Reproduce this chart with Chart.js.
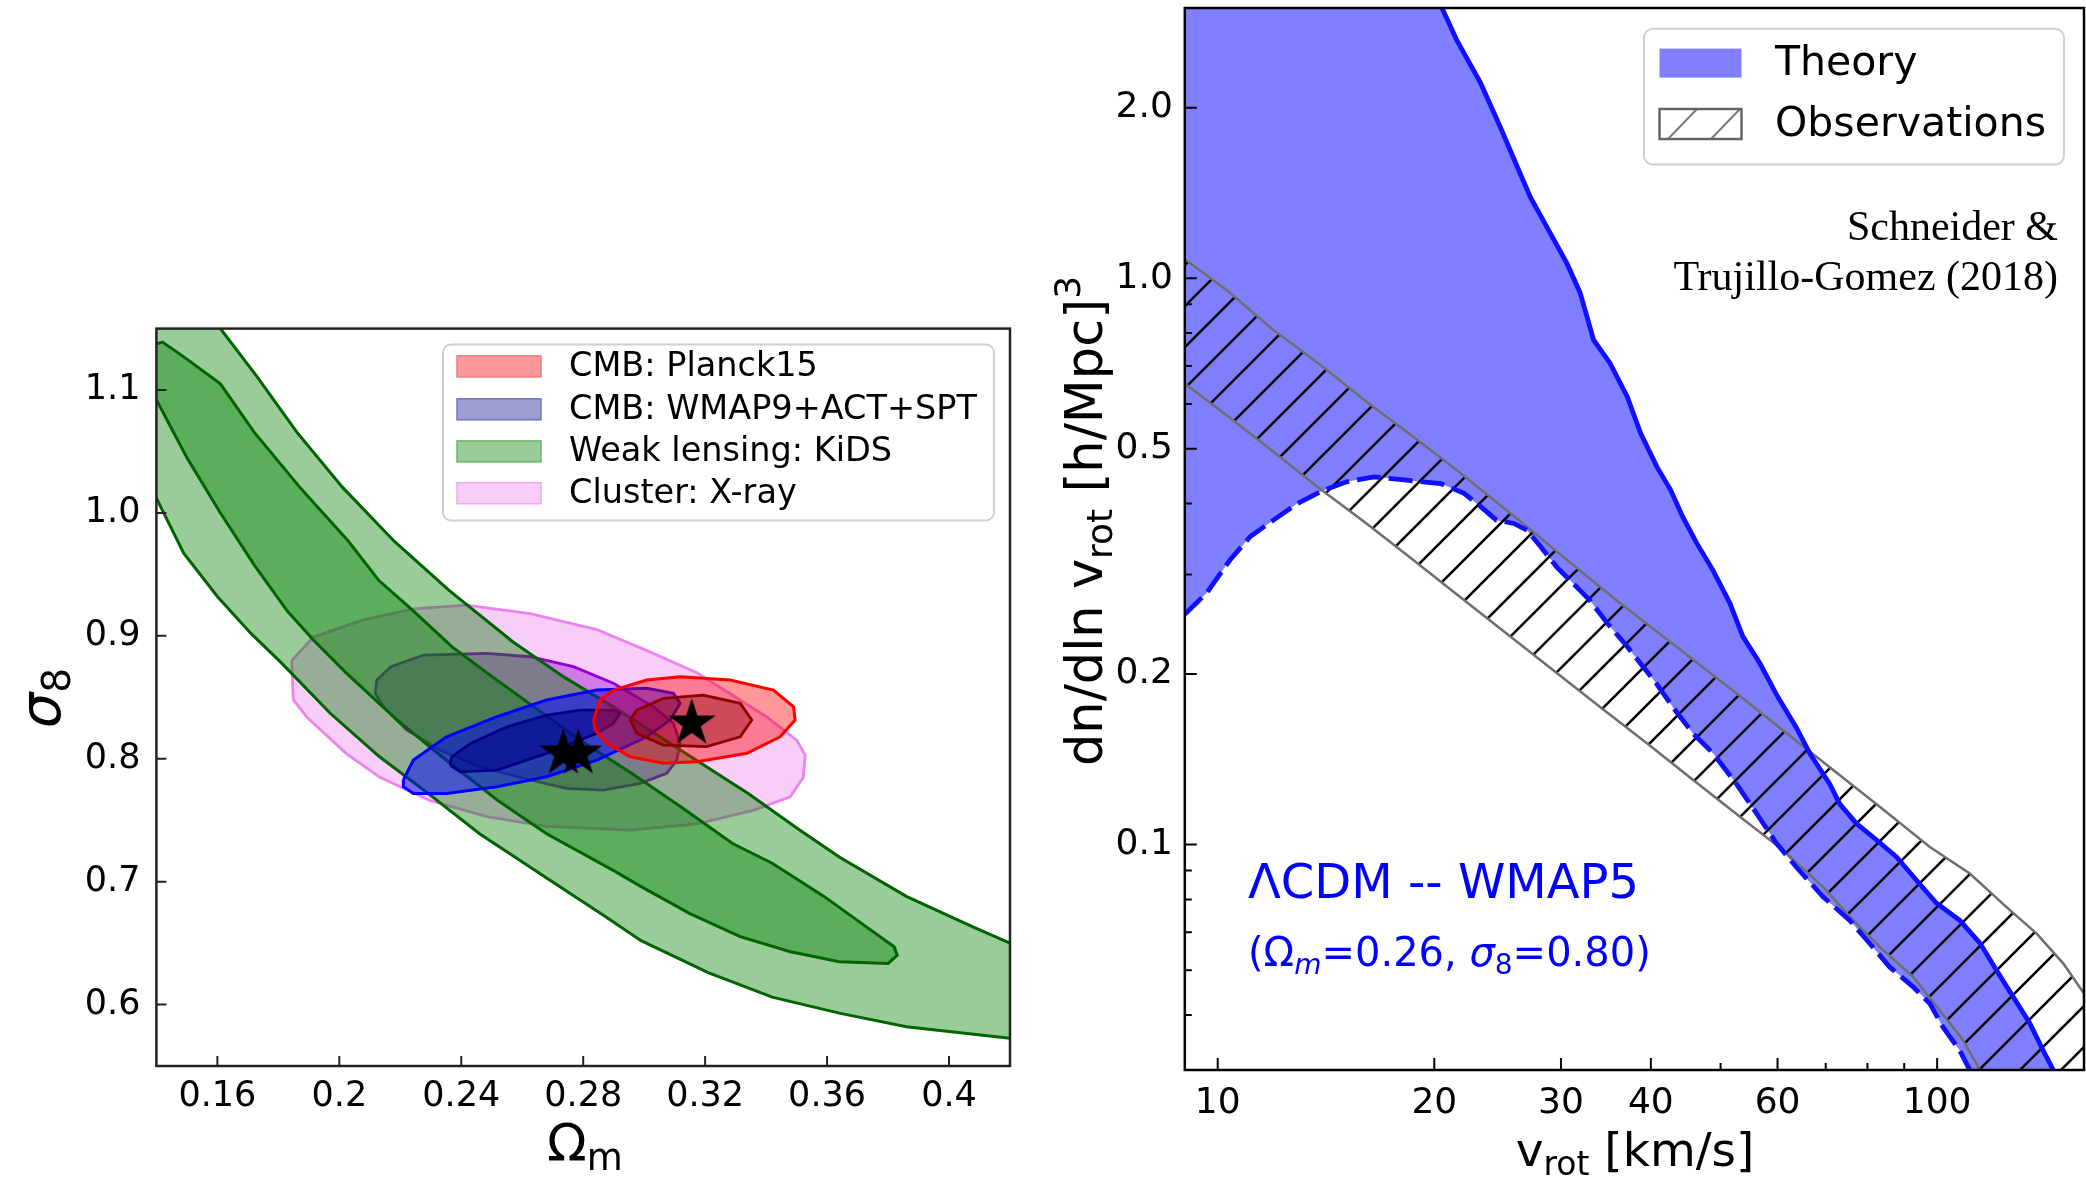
<!DOCTYPE html>
<html>
<head>
<meta charset="utf-8">
<title>sigma_8 - Omega_m constraints / velocity function</title>
<script src="https://cdn.jsdelivr.net/npm/chart.js@4.4.1/dist/chart.umd.min.js"></script>
<style>
  html, body { margin: 0; padding: 0; background: #ffffff; }
  body { position: relative; width: 2086px; height: 1179px; overflow: hidden; }
  #leftBox { position: absolute; left: 0; top: 300px; width: 1040px; height: 879px; }
  #rightBox { position: absolute; left: 1040px; top: 0; width: 1046px; height: 1179px; }
</style>
</head>
<body>
<div id="leftBox"><canvas id="contours" width="1040" height="879"></canvas></div>
<div id="rightBox"><canvas id="velocity" width="1046" height="1179"></canvas></div>
<script>
const FONT = "'DejaVu Sans', sans-serif";

// ---------- left panel: Omega_m - sigma_8 contours ----------
const omTicks = [0.16, 0.2, 0.24, 0.28, 0.32, 0.36, 0.4];
const omTickLabels = ["0.16", "0.2", "0.24", "0.28", "0.32", "0.36", "0.4"];
const s8Ticks = [0.6, 0.7, 0.8, 0.9, 1.0, 1.1];
const s8TickLabels = ["0.6", "0.7", "0.8", "0.9", "1.0", "1.1"];

// KiDS weak lensing, outer (2 sigma) band: upper edge then lower edge
const kidsOuter = [
  [0.150, 1.20], [0.161, 1.15], [0.173, 1.111], [0.186, 1.066], [0.201, 1.021],
  [0.218, 0.977], [0.236, 0.937], [0.257, 0.895], [0.274, 0.866], [0.290, 0.842],
  [0.312, 0.807], [0.334, 0.772], [0.351, 0.742], [0.364, 0.720], [0.386, 0.688],
  [0.408, 0.663], [0.420, 0.650], [0.430, 0.640],
  [0.430, 0.568], [0.420, 0.5725], [0.386, 0.582], [0.364, 0.593], [0.342, 0.606],
  [0.321, 0.626], [0.299, 0.652], [0.287, 0.672], [0.268, 0.703], [0.246, 0.739],
  [0.229, 0.772], [0.213, 0.802], [0.197, 0.837], [0.181, 0.878], [0.171, 0.902],
  [0.160, 0.932], [0.149, 0.967], [0.140, 1.012], [0.130, 1.06], [0.130, 1.20],
  [0.150, 1.20]
];
// KiDS inner (1 sigma) region
const kidsInner = [
  [0.138, 1.136], [0.142, 1.139], [0.149, 1.127], [0.161, 1.105], [0.172, 1.066],
  [0.187, 1.021], [0.203, 0.977], [0.213, 0.945], [0.224, 0.921], [0.237, 0.891],
  [0.250, 0.867], [0.264, 0.842], [0.279, 0.815], [0.296, 0.788], [0.312, 0.761],
  [0.329, 0.731], [0.342, 0.715], [0.359, 0.688], [0.373, 0.663], [0.382, 0.647],
  [0.383, 0.640], [0.380, 0.6335], [0.364, 0.6348], [0.348, 0.643], [0.3315, 0.6552],
  [0.315, 0.674], [0.299, 0.696], [0.290, 0.709], [0.268, 0.739], [0.252, 0.766],
  [0.235, 0.799], [0.219, 0.8315], [0.2024, 0.8695], [0.1915, 0.8966], [0.183, 0.92],
  [0.172, 0.958], [0.161, 1.0], [0.150, 1.045], [0.140, 1.092], [0.130, 1.13],
  [0.138, 1.136]
];
// Cluster X-ray
const clusterOuter = [
  [0.1844, 0.880], [0.1915, 0.899], [0.2079, 0.913], [0.2243, 0.922], [0.2418, 0.925],
  [0.2626, 0.918], [0.2845, 0.905], [0.3009, 0.888], [0.3173, 0.870], [0.3300, 0.850],
  [0.3402, 0.834], [0.3501, 0.815], [0.3528, 0.803], [0.3522, 0.785], [0.3479, 0.769],
  [0.3358, 0.758], [0.3173, 0.747], [0.2954, 0.742], [0.2680, 0.745], [0.2484, 0.753],
  [0.2297, 0.766], [0.2133, 0.785], [0.2024, 0.804], [0.1893, 0.834], [0.1849, 0.848],
  [0.1844, 0.880]
];
const clusterInner = [
  [0.2484, 0.8858], [0.2626, 0.883], [0.2768, 0.8749], [0.2899, 0.8614], [0.3030, 0.8423],
  [0.3096, 0.8288], [0.3118, 0.8125], [0.3107, 0.7989], [0.3074, 0.7881], [0.2987, 0.780],
  [0.2866, 0.7745], [0.2746, 0.7759], [0.2626, 0.7827], [0.2462, 0.7935], [0.2330, 0.8071],
  [0.2221, 0.8234], [0.2145, 0.8423], [0.2118, 0.8532], [0.2123, 0.864], [0.2169, 0.8749],
  [0.2277, 0.8844], [0.2484, 0.8858]
];
// CMB WMAP9+ACT+SPT
const wmapOuter = [
  [0.2210, 0.7827], [0.2243, 0.7989], [0.2352, 0.8179], [0.2517, 0.8342], [0.2680, 0.8478],
  [0.2845, 0.8559], [0.3009, 0.8573], [0.3096, 0.8532], [0.3118, 0.8451], [0.3085, 0.8315],
  [0.3009, 0.8179], [0.2845, 0.7989], [0.2680, 0.7854], [0.2517, 0.7772], [0.2352, 0.7718],
  [0.2243, 0.7718], [0.2210, 0.7772], [0.2210, 0.7827]
];
const wmapInner = [
  [0.2363, 0.7949], [0.2369, 0.8016], [0.2430, 0.8125], [0.2550, 0.826], [0.2680, 0.8356],
  [0.2790, 0.8396], [0.2899, 0.8396], [0.2921, 0.8369], [0.2899, 0.8288], [0.2845, 0.8207],
  [0.2680, 0.8044], [0.2517, 0.7908], [0.2396, 0.7894], [0.2363, 0.7949]
];
// CMB Planck15
const planckOuter = [
  [0.2834, 0.8315], [0.2855, 0.8478], [0.2899, 0.8559], [0.3009, 0.864], [0.3118, 0.8667],
  [0.3282, 0.864], [0.3424, 0.8559], [0.3490, 0.8423], [0.3495, 0.8315], [0.3446, 0.8179],
  [0.3337, 0.8044], [0.3173, 0.7976], [0.3063, 0.7963], [0.2954, 0.8016], [0.2878, 0.8125],
  [0.2839, 0.8234], [0.2834, 0.8315]
];
const planckInner = [
  [0.2954, 0.8315], [0.2976, 0.8396], [0.3063, 0.8491], [0.3194, 0.8518], [0.3315, 0.8451],
  [0.3353, 0.8315], [0.3315, 0.8179], [0.3205, 0.8098], [0.3063, 0.8111], [0.2976, 0.8207],
  [0.2954, 0.8315]
];
const bestFits = [[0.2735, 0.8044], [0.2784, 0.8044], [0.3156, 0.8288]];

const leftLegend = [
  { label: "CMB: Planck15", fill: "#ff9999", edge: "#f27a7a" },
  { label: "CMB: WMAP9+ACT+SPT", fill: "#9d9dd2", edge: "#7474bc" },
  { label: "Weak lensing: KiDS", fill: "#99cc99", edge: "#6cb46c" },
  { label: "Cluster: X-ray", fill: "#f8cdf8", edge: "#f0a8f0" }
];

// ---------- right panel: velocity function ----------
const vTicks = [10, 20, 30, 40, 60, 100];
const vTickLabels = ["10", "20", "30", "40", "60", "100"];
const vMinor = [50, 70, 80, 90];
const nTicks = [0.1, 0.2, 0.5, 1.0, 2.0];
const nTickLabels = ["0.1", "0.2", "0.5", "1.0", "2.0"];
const nMinor = [0.05, 0.06, 0.07, 0.08, 0.09, 0.3, 0.4, 0.6, 0.7, 0.8, 0.9];

// theory band, upper edge (solid line)
const theoryUpper = [
  [9, 3.3], [20.2, 3.3], [20.5, 3.0], [21.5, 2.63], [23.2, 2.21], [24.7, 1.85], [26.1, 1.57],
  [27.2, 1.39], [29.0, 1.20], [30.6, 1.06], [31.9, 0.942], [33.3, 0.778], [35.1, 0.708],
  [37.1, 0.617], [38.7, 0.533], [40.8, 0.464], [42.6, 0.423], [44.3, 0.379], [46.3, 0.341],
  [48.8, 0.305], [51.5, 0.267], [53.7, 0.233], [56.7, 0.209], [59.8, 0.184], [63.7, 0.161],
  [66.5, 0.145], [70.9, 0.128], [73.2, 0.118], [77.2, 0.109], [82.3, 0.102], [87.8, 0.0951],
  [93.6, 0.0865], [99.8, 0.0788], [107.5, 0.0735], [114.7, 0.067], [120.9, 0.060],
  [127.6, 0.0538], [134.5, 0.0484], [140.4, 0.0433], [145, 0.040], [150, 0.036]
];
// theory band, lower edge (dashed line)
const theoryLower = [
  [9.0, 0.255], [9.65, 0.278], [10.4, 0.318], [11.1, 0.350], [11.95, 0.374], [12.9, 0.400],
  [13.9, 0.420], [15.1, 0.437], [16.5, 0.446], [18.3, 0.440], [20.4, 0.434], [22.0, 0.417],
  [23.2, 0.395], [24.4, 0.374], [25.8, 0.369], [26.9, 0.359], [28.1, 0.336], [29.6, 0.309],
  [31.2, 0.289], [32.9, 0.270], [34.8, 0.246], [37.1, 0.2235], [40.7, 0.1926], [42.9, 0.175],
  [45.8, 0.157], [48.8, 0.145], [52.6, 0.128], [56.1, 0.1135], [59.8, 0.1005], [63.7, 0.0913],
  [69.4, 0.0809], [75.6, 0.0735], [80.6, 0.0669], [85.9, 0.0608], [92.6, 0.0561], [97.7, 0.0524],
  [101.9, 0.0476], [107.5, 0.0433], [111.0, 0.040], [115, 0.036]
];
// observed band
const obsUpper = [
  [9, 1.08], [10.29, 0.953], [11.95, 0.810], [13.9, 0.703], [16.1, 0.605], [18.7, 0.525],
  [21.5, 0.458], [24.2, 0.406], [26.9, 0.364], [31.2, 0.3115], [36.3, 0.2666], [42.0, 0.231],
  [52.6, 0.185], [61.1, 0.159], [70.9, 0.137], [82.3, 0.118], [97.7, 0.099], [111.0, 0.0889],
  [126.2, 0.0766], [137.4, 0.0697], [149.7, 0.0617], [160, 0.0546]
];
const obsLower = [
  [9, 0.652], [10.29, 0.573], [11.95, 0.494], [13.9, 0.424], [16.1, 0.369], [18.7, 0.318],
  [21.7, 0.274], [25.2, 0.236], [29.3, 0.203], [34.0, 0.175], [39.5, 0.151], [45.8, 0.130],
  [53.2, 0.112], [61.1, 0.0977], [69.4, 0.0842], [75.6, 0.0746], [83.2, 0.0660], [92.6, 0.0584],
  [100.8, 0.0510], [108.7, 0.0451], [114.7, 0.040], [120, 0.035], [170, 0.02]
];

const pts = (a) => a.map(([x, y]) => ({ x, y }));

function starMarker(r) {
  const c = document.createElement("canvas");
  const s = Math.ceil(2 * r + 2);
  c.width = c.height = s;
  const g = c.getContext("2d");
  g.translate(s / 2, s / 2);
  g.beginPath();
  for (let i = 0; i < 10; i++) {
    const rad = i % 2 ? r * 0.382 : r;
    const ang = -Math.PI / 2 + i * Math.PI / 5;
    g.lineTo(rad * Math.cos(ang), rad * Math.sin(ang));
  }
  g.closePath();
  g.fillStyle = "#000";
  g.fill();
  return c;
}

function hatch(ctx, step, color, width) {
  const c = document.createElement("canvas");
  c.width = c.height = step;
  const g = c.getContext("2d");
  g.strokeStyle = color;
  g.lineWidth = width;
  g.beginPath();
  for (const off of [-step, 0, step]) {
    g.moveTo(off - 1, step + 1);
    g.lineTo(off + step + 1, -1);
  }
  g.stroke();
  return ctx.createPattern(c, "repeat");
}

// text pieces with size changes (sub/superscripts)
function runsWidth(ctx, runs) {
  let w = 0;
  for (const [t, f] of runs) { ctx.font = f; w += ctx.measureText(t).width; }
  return w;
}
function drawRuns(ctx, x, y, runs) {
  for (const [t, f, dy] of runs) {
    ctx.font = f;
    ctx.fillText(t, x, y + (dy || 0));
    x += ctx.measureText(t).width;
  }
}

function roundBox(ctx, x0, y0, x1, y1, r) {
  ctx.beginPath();
  ctx.moveTo(x0 + r, y0);
  ctx.arcTo(x1, y0, x1, y1, r);
  ctx.arcTo(x1, y1, x0, y1, r);
  ctx.arcTo(x0, y1, x0, y0, r);
  ctx.arcTo(x0, y0, x1, y0, r);
  ctx.closePath();
}

// keep the plot box exactly where the layout padding puts it
const noScalePad = (s) => { s.paddingTop = 0; s.paddingBottom = 0; s.paddingLeft = 0; s.paddingRight = 0; };

// ticks pointing into the plot, plus the frame
const inwardTicks = {
  id: "inwardTicks",
  afterDatasetsDraw(chart, args, o) {
    const { ctx, chartArea: a } = chart;
    const x = chart.scales.x, y = chart.scales.y;
    ctx.save();
    ctx.strokeStyle = o.color;
    ctx.lineWidth = o.tickWidth;
    const mark = (xs, ys, len) => {
      ctx.beginPath();
      for (const v of xs) { const p = x.getPixelForValue(v); ctx.moveTo(p, a.bottom); ctx.lineTo(p, a.bottom - len); }
      for (const v of ys) { const p = y.getPixelForValue(v); ctx.moveTo(a.left, p); ctx.lineTo(a.left + len, p); }
      ctx.stroke();
    };
    mark(o.xMajor, o.yMajor, o.majorLen);
    if (o.xMinor) mark(o.xMinor, o.yMinor, o.minorLen);
    ctx.lineWidth = o.frameWidth;
    ctx.strokeRect(a.left, a.top, a.right - a.left, a.bottom - a.top);
    ctx.restore();
  }
};

const leftDecor = {
  id: "leftDecor",
  afterDraw(chart) {
    const ctx = chart.ctx;
    ctx.save();
    ctx.fillStyle = "#000";
    ctx.textBaseline = "alphabetic";
    // x title
    const xt = [["Ω", `52px ${FONT}`, 0], ["m", `37px ${FONT}`, 9]];
    drawRuns(ctx, 585 - runsWidth(ctx, xt) / 2, 861, xt);
    // y title
    const yt = [["σ", `italic 56px ${FONT}`, 0], ["8", `39px ${FONT}`, 10]];
    ctx.translate(60, 398);
    ctx.rotate(-Math.PI / 2);
    drawRuns(ctx, -runsWidth(ctx, yt) / 2, 0, yt);
    ctx.restore();

    // legend
    ctx.save();
    roundBox(ctx, 443, 44.5, 994, 220.5, 8);
    ctx.fillStyle = "rgba(255,255,255,0.85)";
    ctx.fill();
    ctx.strokeStyle = "#d0d0d0";
    ctx.lineWidth = 2;
    ctx.stroke();
    const rows = [66.4, 109.3, 151.4, 193.2];
    ctx.font = `33.5px ${FONT}`;
    ctx.textBaseline = "middle";
    leftLegend.forEach((item, i) => {
      ctx.fillStyle = item.fill;
      ctx.fillRect(457, rows[i] - 10.5, 84, 21);
      ctx.strokeStyle = item.edge;
      ctx.lineWidth = 1.5;
      ctx.strokeRect(457, rows[i] - 10.5, 84, 21);
      ctx.fillStyle = "#000";
      ctx.fillText(item.label, 569, rows[i] + 1);
    });
    ctx.restore();
  }
};

const contour = (label, data, fill, edge, width, order) => ({
  label, data: pts(data), showLine: true, fill: "shape",
  backgroundColor: fill, borderColor: edge, borderWidth: width,
  pointRadius: 0, tension: 0, order
});

new Chart(document.getElementById("contours"), {
  type: "scatter",
  data: {
    datasets: [
      { label: "best fit", data: pts(bestFits), pointStyle: starMarker(25), pointRadius: 25, showLine: false, order: 0 },
      contour("Planck15 1σ", planckInner, "rgba(139,0,0,0.4)", "#8b0000", 2.8, 2),
      contour("Planck15 2σ", planckOuter, "rgba(255,0,0,0.4)", "#ff0000", 3, 3),
      contour("WMAP9 1σ", wmapInner, "rgba(0,0,139,0.55)", "#00008b", 2.8, 4),
      contour("WMAP9 2σ", wmapOuter, "rgba(0,0,255,0.5)", "#0000ff", 3, 5),
      contour("KiDS 1σ", kidsInner, "rgba(0,128,0,0.4)", "#006400", 3, 6),
      contour("KiDS 2σ", kidsOuter, "rgba(0,128,0,0.4)", "#006400", 3, 7),
      contour("Cluster 1σ", clusterInner, "rgba(148,0,211,0.4)", "#9400d3", 2.8, 8),
      contour("Cluster 2σ", clusterOuter, "rgba(238,130,238,0.4)", "#ee82ee", 2.8, 9)
    ]
  },
  options: {
    responsive: false,
    animation: false,
    devicePixelRatio: 1,
    layout: { padding: { left: 0, right: 30, top: 28.6, bottom: 0 } },
    plugins: {
      legend: { display: false },
      tooltip: { enabled: false },
      inwardTicks: {
        color: "#222", tickWidth: 2, frameWidth: 2.5, majorLen: 10,
        xMajor: omTicks, yMajor: s8Ticks
      }
    },
    scales: {
      x: {
        type: "linear", min: 0.14, max: 0.42,
        grid: { display: false, drawTicks: false },
        border: { display: false },
        afterBuildTicks: (s) => { s.ticks = omTicks.map((v) => ({ value: v })); },
        afterFit: (s) => { s.height = 113; noScalePad(s); },
        ticks: {
          callback: (v, i) => omTickLabels[i], color: "#000", padding: 10,
          font: { family: FONT, size: 35 }, maxRotation: 0, autoSkip: false
        }
      },
      y: {
        type: "linear", min: 0.55, max: 1.15,
        grid: { display: false, drawTicks: false },
        border: { display: false },
        afterBuildTicks: (s) => { s.ticks = s8Ticks.map((v) => ({ value: v })); },
        afterFit: (s) => { s.width = 156.4; noScalePad(s); },
        ticks: {
          callback: (v, i) => s8TickLabels[i], color: "#000", padding: 16,
          font: { family: FONT, size: 35 }, autoSkip: false
        }
      }
    }
  },
  plugins: [inwardTicks, leftDecor]
});

// ---------- right chart ----------
const vCanvas = document.getElementById("velocity");
const vctx = vCanvas.getContext("2d");
const obsHatch = hatch(vctx, 41, "#000", 2.6);

const rightDecor = {
  id: "rightDecor",
  afterDraw(chart) {
    const ctx = chart.ctx;
    ctx.save();
    ctx.fillStyle = "#000";
    ctx.textBaseline = "alphabetic";
    const xt = [["v", `47px ${FONT}`, 0], ["rot", `33px ${FONT}`, 9], [" [km/s]", `47px ${FONT}`, 0]];
    drawRuns(ctx, 595 - runsWidth(ctx, xt) / 2, 1166, xt);
    ctx.save();
    const yt = [["dn/dln v", `51px ${FONT}`, 0], ["rot", `36px ${FONT}`, 10],
                [" [h/Mpc]", `51px ${FONT}`, 0], ["3", `36px ${FONT}`, -22]];
    ctx.translate(62, 521);
    ctx.rotate(-Math.PI / 2);
    drawRuns(ctx, -runsWidth(ctx, yt) / 2, 0, yt);
    ctx.restore();

    // model annotation
    ctx.fillStyle = "#0000ff";
    ctx.font = `48px ${FONT}`;
    ctx.fillText("ΛCDM -- WMAP5", 208, 898);
    drawRuns(ctx, 208, 966, [
      ["(Ω", `40px ${FONT}`, 0], ["m", `italic 28px ${FONT}`, 8], ["=0.26, ", `40px ${FONT}`, 0],
      ["σ", `italic 40px ${FONT}`, 0], ["8", `28px ${FONT}`, 8], ["=0.80)", `40px ${FONT}`, 0]
    ]);

    // reference
    ctx.fillStyle = "#000";
    ctx.font = "42px 'Liberation Serif', 'Times New Roman', serif";
    ctx.textAlign = "right";
    ctx.fillText("Schneider &", 1018, 240);
    ctx.fillText("Trujillo-Gomez (2018)", 1018, 290);
    ctx.restore();

    // legend
    ctx.save();
    roundBox(ctx, 604, 28.7, 1024, 164.6, 9);
    ctx.fillStyle = "rgba(255,255,255,0.85)";
    ctx.fill();
    ctx.strokeStyle = "#d0d0d0";
    ctx.lineWidth = 2;
    ctx.stroke();
    ctx.fillStyle = "rgba(0,0,255,0.5)";
    ctx.fillRect(619.5, 48.6, 82, 29);
    ctx.save();
    ctx.beginPath();
    ctx.rect(619.5, 109, 82, 30);
    ctx.clip();
    ctx.strokeStyle = "#777";
    ctx.lineWidth = 2;
    ctx.beginPath();
    for (const x0 of [627, 670]) { ctx.moveTo(x0, 140); ctx.lineTo(x0 + 31, 108); }
    ctx.stroke();
    ctx.restore();
    ctx.strokeStyle = "#666";
    ctx.lineWidth = 2.5;
    ctx.strokeRect(619.5, 109, 82, 30);
    ctx.fillStyle = "#000";
    ctx.font = `41px ${FONT}`;
    ctx.textBaseline = "middle";
    ctx.fillText("Theory", 735, 64);
    ctx.fillText("Observations", 735, 125);
    ctx.restore();
  }
};

const band = (upper, lower) => pts(upper.concat(lower.slice().reverse()));
const curve = (label, data, color, width, dash, order) => ({
  label, data: pts(data), showLine: true, fill: false, borderColor: color,
  borderWidth: width, borderDash: dash, pointRadius: 0, tension: 0, order
});

new Chart(vCanvas, {
  type: "scatter",
  data: {
    datasets: [
      curve("Theory upper", theoryUpper, "#1010ff", 4.8, [], 0),
      curve("Theory lower", theoryLower, "#1010ff", 4.8, [24, 8], 1),
      curve("Observations lower", obsLower, "#6e6e6e", 2.5, [], 2),
      curve("Observations upper", obsUpper, "#6e6e6e", 2.5, [], 3),
      { label: "Observations", data: band(obsUpper, obsLower), showLine: true, fill: "shape",
        backgroundColor: obsHatch, borderWidth: 0, pointRadius: 0, tension: 0, order: 4 },
      { label: "Theory", data: band(theoryUpper, theoryLower), showLine: true, fill: "shape",
        backgroundColor: "rgba(0,0,255,0.5)", borderWidth: 0, pointRadius: 0, tension: 0, order: 5 }
    ]
  },
  options: {
    responsive: false,
    animation: false,
    devicePixelRatio: 1,
    layout: { padding: { left: 0, right: 2, top: 8, bottom: 0 } },
    plugins: {
      legend: { display: false },
      tooltip: { enabled: false },
      inwardTicks: {
        color: "#000", tickWidth: 2, frameWidth: 2.5, majorLen: 12, minorLen: 7,
        xMajor: vTicks, yMajor: nTicks, xMinor: vMinor, yMinor: nMinor
      }
    },
    scales: {
      x: {
        type: "logarithmic", min: 9, max: 160,
        grid: { display: false, drawTicks: false },
        border: { display: false },
        afterBuildTicks: (s) => { s.ticks = vTicks.map((v) => ({ value: v })); },
        afterFit: (s) => { s.height = 109; noScalePad(s); },
        ticks: {
          callback: (v, i) => vTickLabels[i], color: "#000", padding: 12,
          font: { family: FONT, size: 36 }, maxRotation: 0, autoSkip: false
        }
      },
      y: {
        type: "logarithmic", min: 0.04, max: 3.0,
        grid: { display: false, drawTicks: false },
        border: { display: false },
        afterBuildTicks: (s) => { s.ticks = nTicks.map((v) => ({ value: v })); },
        afterFit: (s) => { s.width = 144.8; noScalePad(s); },
        ticks: {
          callback: (v, i) => nTickLabels[i], color: "#000", padding: 12,
          font: { family: FONT, size: 36 }, autoSkip: false
        }
      }
    }
  },
  plugins: [inwardTicks, rightDecor]
});
</script>
</body>
</html>
